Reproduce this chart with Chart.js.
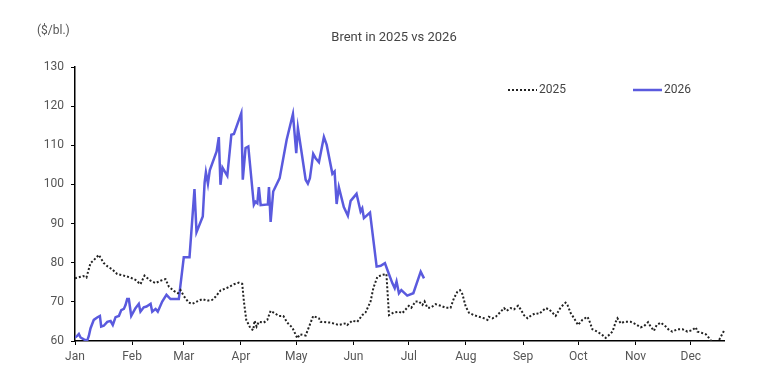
<!DOCTYPE html>
<html>
<head>
<meta charset="utf-8">
<script src="https://cdn.jsdelivr.net/npm/chart.js@4.4.1/dist/chart.umd.min.js"></script>
<style>
  html, body { margin: 0; padding: 0; background: #fff; }
  #wrap { width: 759px; height: 382px; }
</style>
</head>
<body>
<div id="wrap"><canvas id="brent" width="759" height="382"></canvas></div>
<script>
  // x values are day-of-year (0 = Jan 1)
  const monthTicks = [0, 31, 59, 90, 120, 151, 181, 212, 243, 273, 304, 334];
  const monthLabels = ["Jan", "Feb", "Mar", "Apr", "May", "Jun", "Jul", "Aug", "Sep", "Oct", "Nov", "Dec"];
  const yTicks = [60, 70, 80, 90, 100, 110, 120, 130];

  const days2025 = [
    0, 3, 4.4, 6.2, 8.4, 9.9, 12.9, 15.6, 17.8, 20.2, 22.9, 26.5, 30.1, 32.8, 35.5, 37.7, 41, 43.7, 46.4, 49.1,
    50.9, 53.6, 55.8, 57.2, 59, 61.7, 63.6, 66.3, 69, 71.7, 74.4, 76.2, 78.9, 82.6, 86.2, 88.9, 90.7, 91.6, 92.9, 95.2,
    96.7, 97.4, 98.5, 99.7, 102.4, 104.3, 106.1, 108.2, 110.6, 113, 115.1, 117.9, 120.6, 122, 125.1, 129.2, 132.3, 133.2, 138.6, 143.1,
    146.8, 147.7, 150.4, 153.1, 155.8, 157.6, 160.3, 161.8, 164, 166.7, 168.9, 170.3, 173, 175.7, 177.5, 181.1, 182.4, 184.7, 186.5, 188.4,
    189.6, 191.1, 192.9, 195.6, 198.3, 201, 203.7, 205.5, 207.4, 208.8, 210.1, 211.9, 213.7, 216.4, 219.1, 221.8, 223.7, 224.5, 226.4, 228.2,
    230.9, 232.7, 234.1, 236.3, 238.1, 240.3, 241.7, 243.5, 245.4, 247.5, 249.9, 251.7, 255.3, 257.1, 260.7, 263.4, 266.1, 267.1, 268.9, 270.7,
    272.8, 275.2, 277.9, 278.8, 280.6, 283.3, 286.1, 287.8, 289.6, 291.5, 293.3, 294.2, 296, 297.8, 301.4, 304.1, 306.8, 308.6, 310.8, 312.2,
    314, 315.5, 317.7, 320.4, 322.2, 324, 326.7, 329.5, 332.2, 334.9, 336.7, 337.6, 339.8, 342.2, 344, 344.9, 346.5, 348.5, 350.3, 352
  ];
  const prices2025 = [
    76, 76.4, 76.6, 76.2, 79.9, 80.5, 82, 79.9, 79, 78.3, 77.1, 76.7, 76.2, 75.6, 74.5, 76.7, 75.4, 74.8, 75.4, 75.8,
    73.9, 72.8, 72.2, 73, 71.5, 69.8, 69.5, 70.1, 70.7, 70.3, 70.5, 71.3, 72.9, 73.6, 74.5, 74.9, 74.6, 70.1, 65.4, 63.2,
    62.8, 65.2, 63.7, 64.9, 64.7, 65.4, 67.7, 67.1, 66.4, 66.4, 64.7, 63.4, 60.7, 61.7, 61.4, 66.4, 65.8, 64.9, 64.7, 64.1,
    64.5, 64.1, 65.2, 64.9, 66.6, 67.3, 70.1, 73.5, 76.4, 76.9, 77.1, 66.6, 67.3, 67.5, 67.1, 69, 68.5, 70.1, 70.1, 69.2,
    70.1, 68.5, 68.5, 69.4, 69, 68.5, 68.5, 70.9, 72.6, 73, 72, 68.8, 67.2, 66.6, 66.2, 65.8, 65.4, 66.2, 65.8, 66.2,
    67.5, 68.4, 67.7, 68.4, 68.1, 69, 68.1, 66.6, 65.8, 66.6, 67.1, 66.9, 68.4, 68.1, 66.4, 68.6, 69.8, 69.2, 67.1, 65.8,
    64.1, 65.4, 66.2, 65.4, 63, 62.4, 61.5, 60.8, 61.5, 62.4, 64.9, 65.8, 64.5, 64.9, 64.9, 64.3, 63.5, 63.8, 64.8, 63.7,
    62.6, 64.1, 64.7, 63.7, 62.8, 62.4, 63, 63, 62.4, 62.8, 63.5, 62.4, 62.1, 61.7, 60.7, 60.1, 59.5, 59.5, 61.1, 62.6
  ];

  const days2026 = [
    0, 1.2, 2.1, 3, 4.8, 6.6, 7.5, 8.4, 10.2, 12, 13.5, 14.2, 15.6, 17.5, 19.3, 20.5, 22, 23.8, 25.1, 26.5,
    27.4, 28.3, 29.2, 30.5, 32.8, 34.6, 35.5, 37.3, 38.8, 41, 41.9, 43.7, 44.9, 47.3, 49.6, 51.8, 56.3, 59, 62.1, 64.8,
    65.9, 69.3, 70.3, 71, 72.1, 73.1, 76.8, 78, 78.9, 80, 82.6, 84.8, 86.2, 90.2, 91, 92.5, 94, 97, 97.9, 98.9,
    99.7, 100.7, 104.6, 105.2, 106.1, 107.5, 111, 112.4, 114.8, 118.2, 120, 120.9, 122.7, 125.1, 126.3, 127.4, 129.2, 130.5, 132.3, 135,
    136.5, 139.6, 140.8, 141.9, 143.1, 145.8, 148, 149.5, 152.7, 154.9, 155.8, 156.7, 160, 163.6, 165.8, 168.1, 169.4, 172.1, 173.4, 174.4,
    175.7, 177, 180.2, 183.5, 187.5, 189.3
  ];
  const prices2026 = [
    60.9, 61.3, 61.8, 60.9, 60.4, 60.1, 61.3, 63.2, 65.4, 66, 66.4, 63.7, 63.9, 64.9, 65.1, 64.1, 66.1, 66.4, 67.9, 68.2,
    69.2, 70.7, 70.7, 66.4, 68.4, 69.5, 67.5, 68.6, 68.8, 69.5, 67.5, 68.2, 67.5, 70.1, 71.8, 70.7, 70.7, 81.4, 81.4, 98.8,
    87.8, 91.8, 100.5, 103.1, 100.2, 103.6, 108.4, 112.1, 99.9, 104.3, 102.2, 112.7, 112.9, 118.2, 101.2, 109.3, 109.7, 94.8, 95.6, 95.2,
    99.3, 94.7, 94.9, 99.3, 90.4, 98.2, 101.6, 105.2, 111.4, 118, 108, 114.4, 108.8, 101.2, 100.2, 101.6, 107.8, 106.7, 105.7, 112.1,
    110.1, 102.7, 103.3, 95, 99.3, 94.2, 92, 95.8, 97.6, 93.1, 93.9, 91.4, 92.8, 79, 79.2, 79.9, 78.2, 74.8, 73.5, 75.2,
    72.2, 73, 71.6, 72.2, 77.7, 76
  ];

  const FONT = "Roboto, 'Noto Sans', sans-serif";
  const LABEL_COLOR = "#555";
  const COLOR_2025 = "#222";
  const COLOR_2026 = "#5a5ade";

  function toPoints(xs, ys) {
    return xs.map((x, i) => ({ x, y: ys[i] }));
  }

  // title, unit label and legend drawn at fixed spots
  const annotations = {
    id: "annotations",
    afterDraw(chart) {
      const ctx = chart.ctx;
      ctx.save();
      ctx.textBaseline = "middle";
      ctx.fillStyle = "#444";
      ctx.font = "13px " + FONT;
      ctx.textAlign = "center";
      ctx.fillText("Brent in 2025 vs 2026", 394, 38);

      ctx.font = "12px " + FONT;
      ctx.textAlign = "left";
      ctx.fillStyle = "#555";
      ctx.fillText("($/bl.)", 37, 31);

      // legend
      ctx.lineWidth = 2;
      ctx.strokeStyle = COLOR_2025;
      ctx.setLineDash([2, 2]);
      ctx.beginPath();
      ctx.moveTo(508, 90);
      ctx.lineTo(537, 90);
      ctx.stroke();
      ctx.setLineDash([]);
      ctx.strokeStyle = COLOR_2026;
      ctx.lineWidth = 2.5;
      ctx.beginPath();
      ctx.moveTo(633, 90);
      ctx.lineTo(662, 90);
      ctx.stroke();
      ctx.fillStyle = "#444";
      ctx.fillText("2025", 539, 90);
      ctx.fillText("2026", 664, 90);
      ctx.restore();
    },
  };

  new Chart(document.getElementById("brent"), {
    type: "line",
    data: {
      datasets: [
        {
          label: "2025",
          data: toPoints(days2025, prices2025),
          borderColor: COLOR_2025,
          borderWidth: 2,
          borderDash: [2, 2],
          pointRadius: 0,
          tension: 0,
          clip: { left: 0, top: 2, right: 2, bottom: 0 },
        },
        {
          label: "2026",
          data: toPoints(days2026, prices2026),
          borderColor: COLOR_2026,
          borderWidth: 2.5,
          pointRadius: 0,
          tension: 0,
          clip: { left: 0, top: 2, right: 2, bottom: 0 },
        },
      ],
    },
    options: {
      responsive: false,
      animation: false,
      events: [],
      layout: { padding: { left: 0, right: 35, top: 67, bottom: 0 } },
      plugins: {
        legend: { display: false },
        title: { display: false },
        tooltip: { enabled: false },
      },
      scales: {
        x: {
          type: "linear",
          min: 0,
          max: 352,
          afterBuildTicks: (s) => {
            s.ticks = monthTicks.map((v) => ({ value: v }));
          },
          afterFit: (s) => {
            s.height = 41;
          },
          ticks: {
            autoSkip: false,
            maxRotation: 0,
            padding: 5,
            color: LABEL_COLOR,
            font: { family: FONT, size: 12 },
            callback: (v) => monthLabels[monthTicks.indexOf(v)] ?? "",
          },
          grid: { drawOnChartArea: false, drawTicks: true, tickLength: 4, color: "#000" },
          border: { display: true, color: "#000", width: 1.5 },
        },
        y: {
          min: 60,
          max: 130,
          afterBuildTicks: (s) => {
            s.ticks = yTicks.map((v) => ({ value: v }));
          },
          afterFit: (s) => {
            s.width = 75;
          },
          ticks: {
            padding: 7,
            color: LABEL_COLOR,
            font: { family: FONT, size: 12 },
          },
          grid: { drawOnChartArea: false, drawTicks: true, tickLength: 4, color: "#000" },
          border: { display: true, color: "#000", width: 1.5 },
        },
      },
    },
    plugins: [annotations],
  });
</script>
</body>
</html>
